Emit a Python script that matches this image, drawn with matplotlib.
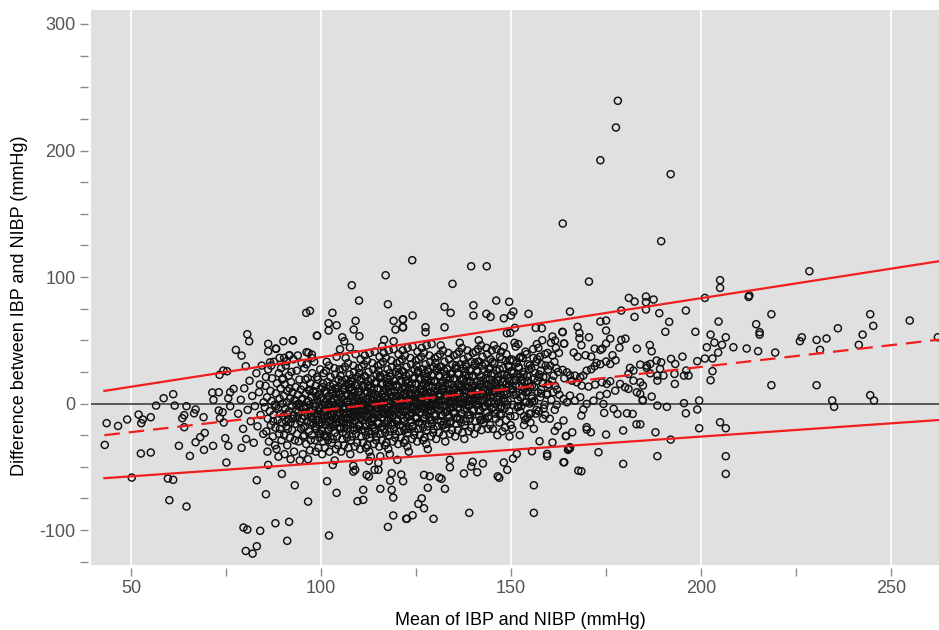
import numpy as np
import matplotlib
matplotlib.use("Agg")
import matplotlib.pyplot as plt
from matplotlib.ticker import MultipleLocator

# Points: (mean of IBP and NIBP, difference), mmHg.
# Sparse points on the far left (low pressures).
left_points = [
    (43.6, -15.5), (43.1, -32.7), (46.6, -17.7), (49.0, -12.6), (50.2, -58.5),
    (52.0, -8.7), (52.7, -15.5), (53.1, -12.6), (55.2, -10.8), (52.6, -39.5),
    (55.2, -38.7), (56.6, -1.6), (58.6, 4.2), (61.1, 7.4), (61.5, -1.6),
    (59.7, -59.3), (61.1, -60.3), (60.1, -76.4), (62.6, -33.4), (63.5, -11.6),
    (64.0, -9.2), (64.0, -18.7), (64.6, -2.1), (66.6, -7.7), (67.0, -4.7),
    (64.6, -81.4), (65.5, -41.4), (67.0, -30.6), (68.2, -26.6), (69.2, -36.6),
    (69.1, -10.8), (69.4, -23.2), (71.6, -33.4), (71.4, 8.7), (71.7, 2.9),
    (73.1, 8.9), (73.3, 22.7), (73.1, -5.5), (73.4, -11.6), (74.3, 26.1),
    (75.3, 25.5), (76.1, 8.9), (77.0, 11.6), (75.6, 4.2), (76.1, -2.1),
    (74.1, -6.9), (74.4, -15.0), (74.8, -27.4), (75.6, -33.4), (75.1, -46.6),
    (77.6, 42.4), (79.1, 37.9), (80.2, 29.5), (80.6, 54.8), (81.1, 49.2),
    (79.6, -98.0), (80.6, -99.6), (84.0, -100.6), (80.2, -116.5), (82.0, -118.6),
    (83.1, -112.8), (83.1, -60.6), (85.5, -71.7), (86.1, -48.5), (88.0, -94.6),
    (91.6, -93.5), (91.1, -108.5), (89.7, -55.6), (93.1, -64.6), (96.6, -77.5),
    (86.1, 47.2), (86.1, 41.3), (88.1, 43.5), (90.1, 49.2), (92.6, 50.0),
    (91.6, 37.9), (90.3, 36.1), (98.9, 53.8), (96.7, 40.1), (96.1, 71.7),
    (97.1, 73.3), (103.0, 71.7), (102.0, 63.5), (102.0, 57.7), (104.1, 61.9),
    (99.0, 53.5), (96.2, 40.6), (97.6, 38.7), (92.6, 50.0), (88.2, 43.2),
    (91.7, 38.2), (89.1, 36.1), (91.0, 33.4), (86.6, 32.6),
    (78.2, -8), (78.9, 3), (79.5, -20), (79.8, 12), (80.3, -28), (80.7, -5),
    (81.2, 18), (81.5, -14), (81.9, 6), (82.3, -31), (82.6, -2), (83.0, 24),
    (83.3, -18), (83.7, 9), (84.1, -9), (84.4, 30), (84.8, -24), (84.9, 1),
    (79.1, -35), (83.9, 15),
]

# Points above the upper limit in the middle range.
upper_points = [
    (117.0, 101.4), (108.1, 93.5), (110.0, 81.4), (117.6, 78.5), (109.1, 65.4),
    (108.6, 58.5), (110.1, 53.2), (105.6, 52.4), (106.1, 49.2), (107.6, 44.3),
    (105.0, 42.9), (119.1, 65.4), (121.6, 66.6), (121.6, 60.3), (119.6, 58.5),
    (116.6, 50.4), (119.1, 49.2), (116.1, 45.3), (124.0, 113.3), (139.5, 108.5),
    (143.6, 108.5), (134.6, 94.6), (132.5, 76.4), (134.1, 71.7), (140.1, 77.7),
    (140.1, 69.6), (143.5, 70.9), (144.6, 68.5), (146.1, 81.4), (149.5, 80.4),
    (150.6, 72.7), (150.0, 69.6), (148.1, 67.4), (154.6, 70.9), (121.5, 66.4),
    (121.5, 60.3), (124.1, 69.6), (127.5, 60.3), (127.5, 56.4), (132.5, 60.3),
    (151.0, 59.8), (149.8, 55.9), (148.9, 55.6), (158.1, 59.5), (156.5, 59.8),
    (163.5, 56.7), (160.9, 53.0), (161.6, 49.8), (163.9, 47.4),
]

# Points below the lower limit in the middle range.
lower_points = [
    (102.1, -104.3), (101.6, -61.4), (104.1, -70.6), (103.1, -48.5), (108.5, -49.2),
    (109.0, -52.4), (108.5, -53.8), (109.6, -77.2), (111.1, -76.1), (111.1, -68.2),
    (112.0, -56.4), (112.6, -57.7), (114.1, -52.4), (115.1, -52.4), (112.6, -45.3),
    (115.1, -46.9), (115.6, -41.6), (115.6, -67.4), (118.2, -60.9), (118.6, -55.1),
    (121.1, -56.1), (121.6, -61.4), (120.1, -44.5), (118.6, -68.2), (119.0, -74.3),
    (117.6, -97.5), (119.0, -88.5), (122.4, -91.1), (127.1, -56.4), (128.6, -57.5),
    (131.1, -58.5), (131.7, -59.5), (128.1, -66.6), (132.6, -67.4), (126.5, -74.9),
    (125.6, -79.3), (127.1, -82.8), (122.6, -91.1), (124.1, -88.3), (129.6, -91.1),
    (139.0, -86.4), (137.6, -55.3), (139.5, -49.8), (141.1, -54.3), (142.6, -47.4),
    (139.9, -46.1), (133.9, -44.5), (133.9, -50.4), (146.5, -57.5), (146.9, -58.7),
    (148.1, -46.6), (149.0, -52.4), (150.5, -43.5), (151.5, -39.8), (156.0, -64.6),
    (156.0, -86.4), (159.5, -39.8), (159.5, -41.6), (164.0, -46.4), (155.5, -37.7),
    (160.9, -30.8), (164.4, -25.8), (157.5, -29.8), (161.5, -21.6), (165.0, -36.6),
    (163.8, -46.4), (165.5, -34.5), (167.7, -53.0),
]

# Right-hand points (high pressures) and the big outliers.
right_points = [
    (178.1, 239.3), (177.6, 218.2), (173.5, 192.3), (192.0, 181.3), (163.6, 142.3),
    (189.5, 128.3), (170.5, 96.4), (228.5, 104.6), (205.0, 97.5), (205.0, 91.4),
    (201.0, 83.5), (212.5, 84.3), (212.7, 85.4), (254.9, 65.6), (244.5, 70.6),
    (245.3, 61.4), (218.5, 70.6), (214.5, 62.7), (215.4, 56.4), (215.4, 54.5),
    (204.6, 64.8), (198.5, 56.7), (202.5, 54.5), (203.5, 48.2), (206.5, 52.4),
    (205.5, 46.4), (208.5, 44.5), (201.5, 44.5), (204.5, 40.3), (212.0, 43.5),
    (215.0, 41.4), (219.5, 40.3), (226.0, 49.3), (226.5, 52.4), (230.4, 50.3),
    (233.0, 51.4), (236.0, 59.5), (231.3, 42.4), (241.5, 46.4), (242.5, 54.5),
    (262.3, 52.4), (199.0, 33.5), (201.0, 35.6), (203.0, 35.6), (203.0, 25.6),
    (202.5, 18.4), (218.5, 14.5), (230.4, 14.5), (234.5, 2.4), (235.0, -2.6),
    (244.5, 6.6), (245.5, 2.4), (199.5, 2.4), (199.0, -4.7), (199.5, -19.5),
    (205.0, -14.8), (206.5, -19.5), (206.5, -41.6), (206.5, -55.6), (195.5, 0.3),
    (196.0, -7.7), (196.0, 73.5), (192.0, -28.5), (188.5, -41.6), (179.5, -47.7),
    (168.5, -53.5), (173.0, -38.5), (165.5, 72.7), (181.0, 83.5), (182.5, 80.6),
    (185.5, 84.6), (185.5, 80.1), (187.5, 82.2), (185.5, 74.3), (179.0, 73.5),
    (182.5, 68.5), (189.0, 71.4), (191.6, 64.6), (190.6, 56.7), (173.5, 64.8),
    (175.0, 65.6),
    (163.8, -13.4), (164.5, -25.5), (166.1, -22.7), (165.1, -35.8), (165.5, -35.3),
    (168.5, -9.5), (169.0, -4.7), (169.9, -18.7), (169.9, -20.6), (171.0, -22.7),
    (175.0, -24.5), (174.5, -7.4), (177.0, -4.2), (178.0, -8.2), (180.5, -7.7),
    (182.0, -8.2), (179.5, -21.3), (183.0, -16.4), (184.0, -16.4), (184.6, 2.4),
    (187.0, 5.5), (188.5, -1.6), (191.0, -2.6), (188.0, -22.7),
    (163.6, 56.4), (164.0, 47.4), (167.5, 60.6), (168.0, 55.8), (168.0, 51.6),
    (168.5, 46.1), (170.5, 52.4), (166.5, 40.3), (167.5, 37.1), (169.6, 38.2),
    (171.1, 37.1), (172.0, 43.4), (173.5, 42.4), (174.0, 43.4), (175.0, 47.4),
    (176.1, 51.3), (175.0, 57.7), (179.0, 50.3), (180.1, 51.3), (178.5, 44.2),
    (183.1, 43.4), (186.5, 46.3), (187.0, 41.3), (176.7, 38.2), (177.5, 34.2),
    (176.1, 31.3), (175.0, 33.2), (173.5, 31.1), (172.5, 32.1), (172.0, 29.5),
    (171.1, 27.1), (169.9, 26.0), (169.0, 22.1), (168.2, 20.8), (166.8, 22.1),
    (165.5, 22.4), (164.7, 24.7), (163.6, 26.6), (164.0, 20.0), (166.0, 18.1),
    (167.3, 16.8), (168.6, 14.2), (170.4, 13.4), (172.1, 15.0), (173.9, 16.8),
    (175.2, 15.5), (176.1, 17.6), (177.4, 10.2), (178.7, 15.5), (180.0, 12.9),
    (180.9, 11.6), (182.2, 18.1), (184.0, 16.8), (184.7, 14.2), (183.1, 8.9),
    (184.0, 7.6), (184.7, 2.9), (185.7, 30.0), (186.6, 31.3), (188.3, 34.0),
    (189.5, 32.6), (189.2, 27.4), (188.5, 22.1), (188.5, 18.1), (186.6, 23.9),
    (185.7, 28.2), (184.0, 30.8), (182.2, 26.1), (181.3, 28.2), (180.9, 23.4),
    (190.1, 22.1), (192.1, 35.3), (193.2, 31.3), (193.0, 23.4), (195.1, 37.1),
    (196.1, 26.1), (196.7, 22.1), (195.5, 22.1), (193.1, 15.5), (174.3, -0.3),
    (175.2, 7.6), (173.4, 6.3), (171.7, 2.3), (169.9, -0.3), (168.2, 5.0),
    (166.8, 2.3), (165.5, 6.3), (164.7, 1.0), (163.8, 3.7),
]

# Dense central cloud, estimated band by band.
core_points = [
    (85.2, -3), (85.4, 14), (85.6, -22), (85.8, 5), (86.0, -12), (86.1, 27), (86.3, -30),
    (86.5, -6), (86.7, 10), (86.8, -17), (87.0, 2), (87.1, 20), (87.3, -26), (87.5, -9),
    (87.6, 33), (87.8, -1), (88.0, -19), (88.1, 8), (88.3, -36), (88.4, 16), (88.6, -13),
    (88.7, -4), (88.9, 24), (89.0, -24), (89.1, 4), (89.3, -8), (89.4, 12), (89.6, -29),
    (89.7, -15), (89.8, 19), (89.9, 0), (85.9, -38), (86.9, 30), (87.9, -33), (88.8, -42),
    (89.5, 28), (85.5, 21), (87.4, -14), (88.2, -2), (89.2, -20),
    (90.1, -10), (90.2, 6), (90.3, -25), (90.5, 15), (90.6, -4), (90.7, 30), (90.9, -18),
    (91.0, 1), (91.1, -33), (91.2, 10), (91.4, -12), (91.5, 22), (91.6, -6), (91.8, -27),
    (91.9, 4), (92.0, -15), (92.1, 17), (92.3, -2), (92.4, -21), (92.5, 9), (92.7, 35),
    (92.8, -9), (92.9, -38), (93.0, 3), (93.2, -16), (93.3, 13), (93.4, -5), (93.6, 26),
    (93.7, -24), (93.8, -11), (93.9, 7), (94.1, -30), (94.2, 0), (94.3, 19), (94.5, -14),
    (94.6, -3), (94.7, 11), (94.8, -20), (94.9, 32), (90.4, -40), (91.3, -20), (92.2, 25),
    (93.1, -29), (94.0, -7), (94.4, -45), (90.8, -14), (91.7, 12), (92.6, -12), (93.5, -1),
    (94.9, 3), (92.0, -44), (93.9, 38), (90.0, 20), (91.0, -8), (93.3, 2),
    (95.0, -12), (95.1, 4), (95.3, -26), (95.4, 14), (95.5, -3), (95.6, 28), (95.8, -18),
    (95.9, -7), (96.0, 8), (96.1, -32), (96.3, 1), (96.4, -14), (96.5, 20), (96.6, -9),
    (96.8, -22), (96.9, 11), (97.0, -1), (97.1, -37), (97.2, 16), (97.4, -11), (97.5, 5),
    (97.6, -25), (97.7, 24), (97.9, -5), (98.0, -16), (98.1, 9), (98.2, 33), (98.4, -29),
    (98.5, -2), (98.6, 14), (98.7, -13), (98.8, -20), (99.0, 3), (99.1, -8), (99.2, 19),
    (99.3, -35), (99.5, 7), (99.6, -17), (99.7, -4), (99.8, 27), (99.9, -24), (95.2, -40),
    (95.7, -10), (96.2, 31), (96.7, 2), (97.3, -29), (97.8, -12), (98.3, -8), (98.9, 21),
    (99.4, -13), (95.9, 19), (96.6, -44), (97.6, 36), (98.6, -38), (99.6, -27), (95.4, -19),
    (96.9, -6), (98.0, 0), (99.0, -10), (97.0, 10), (96.0, -3), (98.8, 6), (99.9, 12),
    (95.6, -25), (97.4, -15),
    (100.0, -9), (100.1, 5), (100.2, -21), (100.4, 13), (100.5, -2), (100.6, -30), (100.7, 24),
    (100.9, -12), (101.0, 1), (101.1, -17), (101.2, 9), (101.4, -6), (101.5, 33), (101.6, -26),
    (101.7, 17), (101.9, -1), (102.0, -14), (102.1, 6), (102.2, -38), (102.4, -8), (102.5, 21),
    (102.6, -19), (102.7, 2), (102.9, 11), (103.0, -4), (103.1, -28), (103.2, 15), (103.4, -11),
    (103.5, 28), (103.6, -1), (103.7, -23), (103.9, 8), (104.0, -15), (104.1, 37), (104.2, -7),
    (104.4, 3), (104.5, -33), (104.6, 19), (104.7, -10), (104.9, -20), (100.3, -40), (100.8, -6),
    (101.3, 26), (101.8, -22), (102.3, -3), (102.8, -31), (103.3, 4), (103.8, -16), (104.3, 12),
    (104.8, 0), (100.5, 16), (101.0, -35), (101.6, -10), (102.1, 30), (102.6, -13), (103.2, -6),
    (103.7, 23), (104.2, -26), (104.8, 7), (100.9, 10), (101.4, -14), (102.4, 14), (103.4, -18),
    (104.5, -3), (100.2, -15), (101.9, -29), (102.9, -9), (103.9, -36), (104.9, 27), (101.2, -4),
    (102.0, 0), (103.0, 8), (104.0, -12), (100.7, -25), (103.6, -45),
    (105.0, -7), (105.1, 8), (105.2, -19), (105.4, 16), (105.5, 0), (105.6, -28), (105.7, 27),
    (105.9, -11), (106.0, 3), (106.1, -15), (106.2, 11), (106.4, -4), (106.5, 36), (106.6, -24),
    (106.7, 19), (106.9, 1), (107.0, -12), (107.1, 7), (107.2, -35), (107.4, -6), (107.5, 23),
    (107.6, -17), (107.7, 4), (107.9, 13), (108.0, -2), (108.1, -26), (108.2, 17), (108.4, -9),
    (108.5, 30), (108.6, 1), (108.7, -21), (108.9, 10), (109.0, -13), (109.1, 39), (109.2, -5),
    (109.4, 5), (109.5, -31), (109.6, 21), (109.7, -8), (109.9, -18), (105.3, -38), (105.8, -4),
    (106.3, 29), (106.8, -20), (107.3, -1), (107.8, -29), (108.3, 6), (108.8, -14), (109.3, 14),
    (109.8, 2), (105.5, 18), (106.0, -33), (106.6, -8), (107.1, 32), (107.6, -11), (108.2, -4),
    (108.7, 25), (109.2, -24), (109.8, 9), (105.9, 12), (106.4, -12), (107.4, 16), (108.4, -16),
    (109.5, -1), (105.2, -13), (106.9, -27), (107.9, -7), (108.9, -34), (109.9, 28), (106.2, -2),
    (107.0, 2), (108.0, 10), (109.0, -10), (105.7, -23), (107.7, -40), (106.5, 6), (108.6, -19),
    (109.4, -3), (105.1, 22), (107.3, 12),
    (110.0, -5), (110.1, 10), (110.2, -17), (110.4, 18), (110.5, 2), (110.6, -26), (110.7, 29),
    (110.9, -9), (111.0, 5), (111.1, -13), (111.2, 13), (111.4, -2), (111.5, 38), (111.6, -22),
    (111.7, 21), (111.9, 3), (112.0, -10), (112.1, 9), (112.2, -33), (112.4, -4), (112.5, 25),
    (112.6, -15), (112.7, 6), (112.9, 15), (113.0, 0), (113.1, -24), (113.2, 19), (113.4, -7),
    (113.5, 32), (113.6, 3), (113.7, -19), (113.9, 12), (114.0, -11), (114.1, 41), (114.2, -3),
    (114.4, 7), (114.5, -29), (114.6, 23), (114.7, -6), (114.9, -16), (110.3, -36), (110.8, -2),
    (111.3, 31), (111.8, -18), (112.3, 1), (112.8, -27), (113.3, 8), (113.8, -12), (114.3, 16),
    (114.8, 4), (110.5, 20), (111.0, -31), (111.6, -6), (112.1, 34), (112.6, -9), (113.2, -2),
    (113.7, 27), (114.2, -22), (114.8, 11), (110.9, 14), (111.4, -10), (112.4, 18), (113.4, -14),
    (114.5, 1), (110.2, -11), (111.9, -25), (112.9, -5), (113.9, -32), (114.9, 30), (111.2, 0),
    (112.0, 4), (113.0, 12), (114.0, -8), (110.7, -21), (112.7, -38), (111.5, 8), (113.6, -17),
    (114.4, -1), (110.1, 24), (112.3, 14), (113.1, -42), (111.8, -35), (114.6, -26), (110.4, 35),
    (112.8, 40),
    (115.0, -3), (115.1, 12), (115.2, -15), (115.4, 20), (115.5, 4), (115.6, -24), (115.7, 31),
    (115.9, -7), (116.0, 7), (116.1, -11), (116.2, 15), (116.4, 0), (116.5, 40), (116.6, -20),
    (116.7, 23), (116.9, 5), (117.0, -8), (117.1, 11), (117.2, -31), (117.4, -2), (117.5, 27),
    (117.6, -13), (117.7, 8), (117.9, 17), (118.0, 2), (118.1, -22), (118.2, 21), (118.4, -5),
    (118.5, 34), (118.6, 5), (118.7, -17), (118.9, 14), (119.0, -9), (119.1, 43), (119.2, -1),
    (119.4, 9), (119.5, -27), (119.6, 25), (119.7, -4), (119.9, -14), (115.3, -34), (115.8, 0),
    (116.3, 33), (116.8, -16), (117.3, 3), (117.8, -25), (118.3, 10), (118.8, -10), (119.3, 18),
    (119.8, 6), (115.5, 22), (116.0, -29), (116.6, -4), (117.1, 36), (117.6, -7), (118.2, 0),
    (118.7, 29), (119.2, -20), (119.8, 13), (115.9, 16), (116.4, -8), (117.4, 20), (118.4, -12),
    (119.5, 3), (115.2, -9), (116.9, -23), (117.9, -3), (118.9, -30), (119.9, 32), (116.2, 2),
    (117.0, 6), (118.0, 14), (119.0, -6), (115.7, -19), (117.7, -36), (116.5, 10), (118.6, -15),
    (119.4, 1), (115.1, 26), (117.3, 16), (118.1, -40), (116.8, -33), (119.6, -24), (115.4, 37),
    (117.8, 42),
    (120.0, -1), (120.1, 14), (120.2, -13), (120.4, 22), (120.5, 6), (120.6, -22), (120.7, 33),
    (120.9, -5), (121.0, 9), (121.1, -9), (121.2, 17), (121.4, 2), (121.5, 42), (121.6, -18),
    (121.7, 25), (121.9, 7), (122.0, -6), (122.1, 13), (122.2, -29), (122.4, 0), (122.5, 29),
    (122.6, -11), (122.7, 10), (122.9, 19), (123.0, 4), (123.1, -20), (123.2, 23), (123.4, -3),
    (123.5, 36), (123.6, 7), (123.7, -15), (123.9, 16), (124.0, -7), (124.1, 45), (124.2, 1),
    (124.4, 11), (124.5, -25), (124.6, 27), (124.7, -2), (124.9, -12), (120.3, -32), (120.8, 2),
    (121.3, 35), (121.8, -14), (122.3, 5), (122.8, -23), (123.3, 12), (123.8, -8), (124.3, 20),
    (124.8, 8), (120.5, 24), (121.0, -27), (121.6, -2), (122.1, 38), (122.6, -5), (123.2, 2),
    (123.7, 31), (124.2, -18), (124.8, 15), (120.9, 18), (121.4, -6), (122.4, 22), (123.4, -10),
    (124.5, 5), (120.2, -7), (121.9, -21), (122.9, -1), (123.9, -28), (124.9, 34), (121.2, 4),
    (122.0, 8), (123.0, 16), (124.0, -4), (120.7, -17), (122.7, -34), (121.5, 12), (123.6, -13),
    (124.4, 3), (120.1, 28), (122.3, 18), (123.1, -38), (121.8, -31), (124.6, -22), (120.4, 39),
    (122.8, 44),
    (125.0, 1), (125.1, 16), (125.2, -11), (125.4, 24), (125.5, 8), (125.6, -20), (125.7, 35),
    (125.9, -3), (126.0, 11), (126.1, -7), (126.2, 19), (126.4, 4), (126.5, 44), (126.6, -16),
    (126.7, 27), (126.9, 9), (127.0, -4), (127.1, 15), (127.2, -27), (127.4, 2), (127.5, 31),
    (127.6, -9), (127.7, 12), (127.9, 21), (128.0, 6), (128.1, -18), (128.2, 25), (128.4, -1),
    (128.5, 38), (128.6, 9), (128.7, -13), (128.9, 18), (129.0, -5), (129.1, 47), (129.2, 3),
    (129.4, 13), (129.5, -23), (129.6, 29), (129.7, 0), (129.9, -10), (125.3, -30), (125.8, 4),
    (126.3, 37), (126.8, -12), (127.3, 7), (127.8, -21), (128.3, 14), (128.8, -6), (129.3, 22),
    (129.8, 10), (125.5, 26), (126.0, -25), (126.6, 0), (127.1, 40), (127.6, -3), (128.2, 4),
    (128.7, 33), (129.2, -16), (129.8, 17), (125.9, 20), (126.4, -4), (127.4, 24), (128.4, -8),
    (129.5, 7), (125.2, -5), (126.9, -19), (127.9, 1), (128.9, -26), (129.9, 36), (126.2, 6),
    (127.0, 10), (128.0, 18), (129.0, -2), (125.7, -15), (127.7, -32), (126.5, 14), (128.6, -11),
    (129.4, 5), (125.1, 30), (127.3, 20), (128.1, -36), (126.8, -29), (129.6, -20), (125.4, 41),
    (127.8, 46),
    (130.0, 3), (130.1, 18), (130.2, -9), (130.4, 26), (130.5, 10), (130.6, -18), (130.7, 37),
    (130.9, -1), (131.0, 13), (131.1, -5), (131.2, 21), (131.4, 6), (131.5, 46), (131.6, -14),
    (131.7, 29), (131.9, 11), (132.0, -2), (132.1, 17), (132.2, -25), (132.4, 4), (132.5, 33),
    (132.6, -7), (132.7, 14), (132.9, 23), (133.0, 8), (133.1, -16), (133.2, 27), (133.4, 1),
    (133.5, 40), (133.6, 11), (133.7, -11), (133.9, 20), (134.0, -3), (134.2, 5), (134.4, 15),
    (134.5, -21), (134.6, 31), (134.7, 2), (134.9, -8), (130.3, -28), (130.8, 6), (131.3, 39),
    (131.8, -10), (132.3, 9), (132.8, -19), (133.3, 16), (133.8, -4), (134.3, 24), (134.8, 12),
    (130.5, 28), (131.0, -23), (131.6, 2), (132.1, 42), (132.6, -1), (133.2, 6), (133.7, 35),
    (134.2, -14), (134.8, 19), (130.9, 22), (131.4, -2), (132.4, 26), (133.4, -6), (134.5, 9),
    (130.2, -3), (131.9, -17), (132.9, 3), (133.9, -24), (134.9, 38), (131.2, 8), (132.0, 12),
    (133.0, 20), (134.0, 0), (130.7, -13), (132.7, -30), (131.5, 16), (133.6, -9), (134.4, 7),
    (130.1, 32),
    (135.0, 5), (135.1, 20), (135.2, -7), (135.4, 28), (135.5, 12), (135.6, -16), (135.7, 39),
    (135.9, 1), (136.0, 15), (136.1, -3), (136.2, 23), (136.4, 8), (136.5, 48), (136.6, -12),
    (136.7, 31), (136.9, 13), (137.0, 0), (137.1, 19), (137.2, -23), (137.4, 6), (137.5, 35),
    (137.6, -5), (137.7, 16), (137.9, 25), (138.0, 10), (138.1, -14), (138.2, 29), (138.4, 3),
    (138.5, 42), (138.6, 13), (138.7, -9), (138.9, 22), (139.0, -1), (139.2, 7), (139.4, 17),
    (139.5, -19), (139.6, 33), (139.7, 4), (139.9, -6), (135.3, -26), (135.8, 8), (136.3, 41),
    (136.8, -8), (137.3, 11), (137.8, -17), (138.3, 18), (138.8, -2), (139.3, 26), (139.8, 14),
    (135.5, 30), (136.0, -21), (136.6, 4), (137.1, 44), (137.6, 1), (138.2, 8), (138.7, 37),
    (139.2, -12), (139.8, 21), (135.9, 24), (136.4, 0), (137.4, 28), (138.4, -4), (139.5, 11),
    (135.2, -1), (136.9, -15), (137.9, 5), (138.9, -22), (139.9, 40), (136.2, 10), (137.0, 14),
    (138.0, 22), (139.0, 2), (135.7, -11), (137.7, -28),
    (140.0, 7), (140.1, 22), (140.2, -5), (140.4, 30), (140.5, 14), (140.6, -14), (140.7, 41),
    (140.9, 3), (141.0, 17), (141.1, -1), (141.2, 25), (141.4, 10), (141.5, 50), (141.6, -10),
    (141.7, 33), (141.9, 15), (142.0, 2), (142.1, 21), (142.2, -21), (142.4, 8), (142.5, 37),
    (142.6, -3), (142.7, 18), (142.9, 27), (143.0, 12), (143.1, -12), (143.2, 31), (143.4, 5),
    (143.5, 44), (143.6, 15), (143.7, -7), (143.9, 24), (144.0, 1), (144.2, 9), (144.4, 19),
    (144.5, -17), (144.6, 35), (144.7, 6), (144.9, -4), (140.3, -24), (140.8, 10), (141.3, 43),
    (141.8, -6), (142.3, 13), (142.8, -15), (143.3, 20), (143.8, 0), (144.3, 28), (144.8, 16),
    (140.5, 32), (141.0, -19), (141.6, 6), (142.1, 46), (142.6, 3), (143.2, 10), (143.7, 39),
    (144.2, -10), (144.8, 23), (140.9, 26), (141.4, 2), (142.4, 30), (143.4, -2), (144.5, 13),
    (140.2, 1), (141.9, -13), (142.9, 7), (143.9, -20), (144.9, 42), (141.2, 12),
    (145.0, 9), (145.2, 24), (145.4, -3), (145.6, 32), (145.8, 16), (146.0, -12), (146.2, 43),
    (146.4, 5), (146.6, 19), (146.8, 1), (147.0, 27), (147.2, 12), (147.4, -8), (147.6, 35),
    (147.8, 17), (148.0, 4), (148.2, 23), (148.4, -19), (148.6, 10), (148.8, 39), (149.0, -1),
    (149.2, 20), (149.4, 29), (149.6, 14), (149.8, -10), (145.1, 33), (145.3, 7), (145.5, 46),
    (145.7, 17), (145.9, -5), (146.1, 26), (146.3, 3), (146.5, 11), (146.7, 21), (146.9, -15),
    (147.1, 37), (147.3, 8), (147.5, -2), (147.7, -22), (147.9, 12), (148.1, 45), (148.3, -4),
    (148.5, 15), (148.7, -13), (148.9, 22), (149.1, 2), (149.3, 30), (149.5, 18), (149.7, 34),
    (149.9, -17), (145.6, 0), (146.4, -25), (147.4, 41), (148.2, 7), (149.0, 8), (146.0, 14),
    (147.0, -9), (148.0, 28), (149.6, -26), (145.2, -20),
    (150.0, 11), (150.2, 26), (150.4, -1), (150.6, 34), (150.8, 18), (151.0, -10), (151.2, 45),
    (151.4, 7), (151.6, 21), (151.8, 3), (152.0, 29), (152.2, 14), (152.4, -6), (152.6, 37),
    (152.8, 19), (153.0, 6), (153.2, 25), (153.4, -17), (153.6, 12), (153.8, 41), (154.0, 1),
    (154.2, 22), (154.4, 31), (154.6, 16), (154.8, -8), (150.1, 35), (150.5, 9), (150.9, 48),
    (151.3, 19), (151.7, -3), (152.1, 28), (152.5, 5), (152.9, 13), (153.3, 23), (153.7, -13),
    (154.1, 39), (154.5, 10), (154.9, 0), (150.3, -20), (151.1, 14), (151.9, 47), (152.7, -2),
    (153.5, 17), (154.3, -11), (150.7, 24), (151.5, 32), (152.3, -25), (153.1, 36), (153.9, 9),
    (154.7, 27),
    (155.0, 13), (155.3, 28), (155.6, 1), (155.9, 36), (156.2, 20), (156.5, -8), (156.8, 47),
    (157.1, 9), (157.4, 23), (157.7, 5), (158.0, 31), (158.3, 16), (158.6, -4), (158.9, 39),
    (159.2, 21), (159.5, 8), (159.8, 27), (155.1, -15), (155.5, 14), (155.8, 43), (156.1, 2),
    (156.4, 24), (156.7, 33), (157.0, 18), (157.3, -6), (157.6, 37), (157.9, 11), (158.2, 50),
    (158.5, 21), (158.8, -1), (159.1, 30), (159.4, 7), (159.7, 15), (156.0, -20), (157.2, 44),
    (158.4, -12), (159.6, 40), (155.4, 6), (157.8, 26), (159.0, -9),
    (160.0, 15), (160.3, 30), (160.6, 3), (160.9, 38), (161.2, 22), (161.5, -5), (161.8, 44),
    (162.1, 11), (162.4, 25), (162.7, 7), (160.2, -12), (160.8, 18), (161.4, 33), (162.0, -1),
    (162.6, 40), (161.1, 9), (161.9, 28), (160.5, 48), (162.3, -18), (161.6, 14),
]

# Extra points where the cloud is solid black around the bias line.
inner_points = [
    (98.5, -18), (99.2, -6), (99.8, 4), (100.3, -12), (100.9, -1), (101.5, 8), (102.0, -20),
    (102.6, -9), (103.1, 1), (103.7, 12), (104.2, -4), (104.8, -15), (105.3, 5), (105.9, -8),
    (106.4, 14), (107.0, -17), (107.5, -3), (108.0, 6), (98.0, 10), (99.5, -24), (101.1, -26),
    (102.9, -16), (104.5, 9), (106.1, -19), (107.8, 18),
    (108.4, -11), (108.9, 3), (109.5, -20), (110.0, 12), (110.6, -7), (111.1, 1), (111.7, -16),
    (112.2, 9), (112.8, -3), (113.3, -12), (113.9, 5), (114.4, 17), (115.0, -9), (115.5, 0),
    (116.1, -18), (116.6, 8), (117.2, -5), (117.7, 13), (108.2, 20), (109.7, -2), (111.4, 22),
    (112.5, -22), (114.1, -20), (115.8, 21), (117.4, -14),
    (118.3, -8), (118.8, 6), (119.4, -16), (119.9, 15), (120.5, -3), (121.0, 4), (121.6, -12),
    (122.1, 11), (122.7, 0), (123.2, -9), (123.8, 8), (124.3, 20), (124.9, -6), (125.4, 3),
    (126.0, -15), (126.5, 11), (127.1, -2), (127.6, 16), (118.1, 24), (119.6, 1), (121.3, 26),
    (122.4, -20), (124.0, -18), (125.7, 25), (127.3, -11),
    (128.2, -5), (128.7, 9), (129.3, -13), (129.8, 18), (130.4, 0), (130.9, 7), (131.5, -9),
    (132.0, 14), (132.6, 3), (133.1, -6), (133.7, 11), (134.2, 23), (134.8, -3), (135.3, 6),
    (135.9, -12), (136.4, 14), (137.0, 1), (137.5, 19), (128.0, 27), (129.5, 4), (131.2, 29),
    (132.3, -17), (133.9, -15), (135.6, 28), (137.2, -8),
    (138.2, -1), (138.7, 13), (139.3, -9), (139.8, 22), (140.4, 4), (140.9, 11), (141.5, -5),
    (142.0, 18), (142.6, 7), (143.1, -2), (143.7, 15), (144.2, 27), (144.8, 1), (145.3, 10),
    (145.9, -8), (146.4, 18), (147.0, 5), (147.5, 23), (138.0, 31), (139.5, 8), (141.2, 33),
    (142.3, -13), (143.9, -11), (145.6, 32), (147.2, -4),
    (148.3, 2), (148.9, 16), (149.5, -6), (150.1, 25), (150.7, 7), (151.3, 14), (151.9, -2),
    (152.5, 21), (153.1, 10), (153.7, 1), (154.3, 18), (154.9, 30), (155.5, 4), (156.1, 13),
    (156.7, -5), (157.3, 21), (157.9, 8), (148.6, 34), (150.4, 11), (152.2, 36), (153.4, -10),
    (155.2, -8), (156.9, 35),
]

# Regression-based bias and limits of agreement (end points).
line_x = [43, 262.6]
upper_loa = [10, 112.5]
bias = [-25, 50.5]
lower_loa = [-59, -13]

all_points = left_points + upper_points + lower_points + right_points + core_points + inner_points
mean_vals = np.array([p[0] for p in all_points])
diff_vals = np.array([p[1] for p in all_points])

plt.rcParams['font.family'] = ['Liberation Sans', 'DejaVu Sans']
plt.rcParams['axes.unicode_minus'] = False

fig = plt.figure(figsize=(9.39, 6.30), dpi=100)
ax = fig.add_axes([0.097, 0.103, 0.903, 0.881])
ax.set_facecolor('#e0e0e0')

# White vertical grid on the major x ticks only.
for gx in [50, 100, 150, 200, 250]:
    ax.axvline(gx, color='white', linewidth=1.3, zorder=0)

ax.axhline(0, color='#333333', linewidth=1.1, zorder=1)

ax.scatter(mean_vals, diff_vals, s=26, facecolors='none', edgecolors='#111111',
           linewidths=1.05, zorder=2)

ax.plot(line_x, upper_loa, color='#f01e1e', linewidth=1.6, zorder=3)
ax.plot(line_x, bias, color='#f01e1e', linewidth=1.6, dashes=(7, 4), zorder=3)
ax.plot(line_x, lower_loa, color='#f01e1e', linewidth=1.6, zorder=3)

ax.set_xlim(39.5, 262.6)
ax.set_ylim(-127.7, 311)

ax.xaxis.set_major_locator(MultipleLocator(50))
ax.xaxis.set_minor_locator(MultipleLocator(25))
ax.yaxis.set_major_locator(MultipleLocator(100))
ax.yaxis.set_minor_locator(MultipleLocator(25))

for side in ['top', 'right', 'bottom', 'left']:
    ax.spines[side].set_visible(False)
ax.spines['left'].set_position(('outward', 2))
ax.spines['bottom'].set_position(('outward', 2))

ax.tick_params(which='both', direction='out', length=6, width=1, color='#8a8a8a')
ax.tick_params(which='major', labelsize=13, labelcolor='#555555', pad=3)

ax.set_xlabel('Mean of IBP and NIBP (mmHg)', fontsize=13, labelpad=10)
ax.set_ylabel('Difference between IBP and NIBP (mmHg)', fontsize=13, labelpad=6)
ax.xaxis.set_label_coords(0.506, -0.085)
ax.yaxis.set_label_coords(-0.074, 0.468)

fig.savefig('out.png', dpi=100)
